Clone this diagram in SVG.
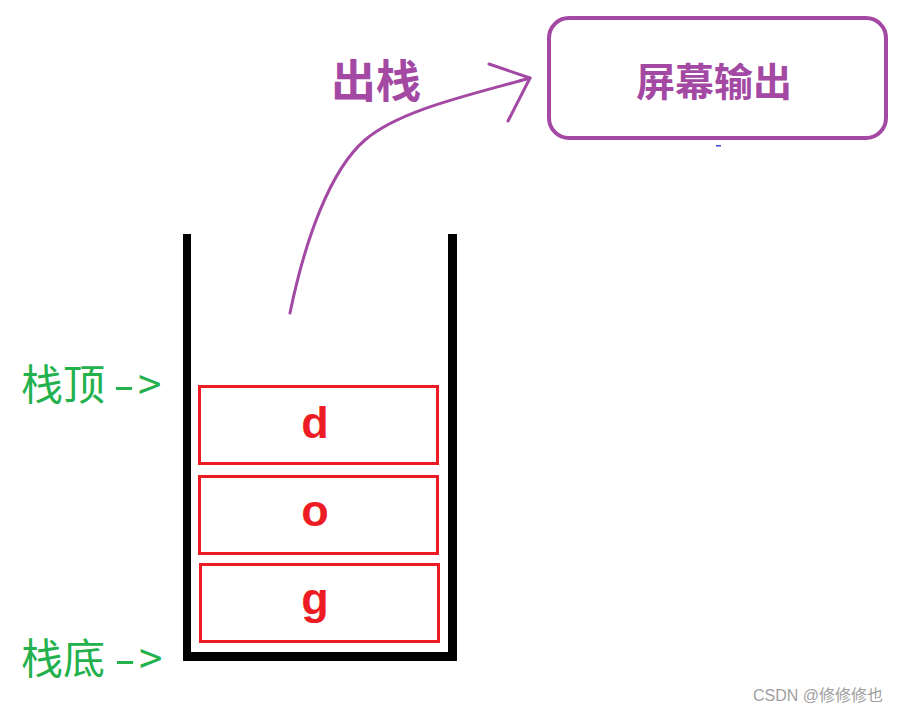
<svg xmlns="http://www.w3.org/2000/svg" width="906" height="713" viewBox="0 0 906 713">
<style>
.wall{fill:#000}
.cell rect{fill:none;stroke:#ED1C24;stroke-width:3}
.cell text{font-family:"Liberation Sans",Arial,sans-serif;font-weight:bold;font-size:45px;fill:#ED1C24;text-anchor:middle}
.lbl{font-family:"Noto Sans CJK SC","Microsoft YaHei",sans-serif;font-size:42px;fill:#22B14C}
.pt{font-family:"Noto Sans CJK SC",sans-serif;font-weight:bold;fill:#A349A4;text-anchor:middle}
.conn{fill:none;stroke:#A349A4;stroke-width:3;stroke-linecap:round;stroke-linejoin:round}
</style>
<rect width="906" height="713" fill="#fff"/>
<g id="stack">
<rect class="wall" x="183" y="234" width="8" height="427"/>
<rect class="wall" x="448" y="234" width="9" height="427"/>
<rect class="wall" x="183" y="652" width="274" height="9"/>
</g>
<g id="cell-d" class="cell"><rect x="199.5" y="386.5" width="238" height="77"/><text x="315" y="438">d</text></g>
<g id="cell-o" class="cell"><rect x="199.5" y="476.5" width="238" height="77"/><text x="315" y="526">o</text></g>
<g id="cell-g" class="cell"><rect x="200.5" y="564.5" width="238" height="77"/><text x="315" y="614">g</text></g>
<g id="top-label"><text class="lbl" x="21" y="400">栈顶<tspan x="113" y="400" textLength="22" lengthAdjust="spacingAndGlyphs">-</tspan><tspan x="138" y="400">&gt;</tspan></text></g>
<g id="bottom-label"><text class="lbl" x="21" y="674">栈底<tspan x="114" y="674" textLength="22" lengthAdjust="spacingAndGlyphs">-</tspan><tspan x="139" y="674">&gt;</tspan></text></g>
<g id="screen">
<rect x="549" y="18" width="337" height="120" rx="20" fill="none" stroke="#A349A4" stroke-width="4"/>
<text class="pt" x="714" y="96" font-size="39">屏幕输出</text>
</g>
<g id="connectors">
<path class="conn" d="M290,313 C305,240 330,170 365,140 C400,110 470,95 530,78"/>
<path class="conn" d="M489,64 L530,78 L508,121"/>
<text class="pt" x="376" y="98" font-size="45">出栈</text>
</g>
<rect x="716" y="145" width="5" height="1.5" fill="#3F48CC"/>
<text x="753" y="701" font-family="'Liberation Sans','Noto Sans CJK SC',sans-serif" font-size="16" fill="#a0a0a0">CSDN @修修修也</text>
</svg>
